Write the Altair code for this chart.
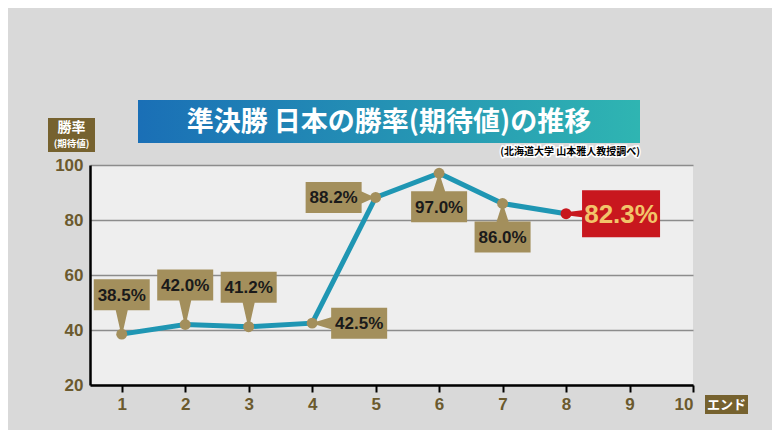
import altair as alt
import pandas as pd

# ---- data ----
ends = [1, 2, 3, 4, 5, 6, 7, 8]
rates = [38.5, 42.0, 41.2, 42.5, 88.2, 97.0, 86.0, 82.3]
labels = ["38.5%", "42.0%", "41.2%", "42.5%", "88.2%", "97.0%", "86.0%", "82.3%"]
placement = ["above", "above", "above", "right", "left", "below", "below", "highlight"]
x_ticks = list(range(1, 11))
y_ticks = [20, 40, 60, 80, 100]

title_text = "準決勝 日本の勝率(期待値)の推移"
source_text = "(北海道大学 山本雅人教授調べ)"
y_title_lines = ["勝率", "(期待値)"]
x_title = "エンド"

df = pd.DataFrame({"end": ends, "rate": rates, "label": labels, "place": placement})

# ---- styles ----
OLIVE = "#a38f5c"
DARK_OLIVE = "#76622f"
AXIS_TXT = "#6b5a2e"
TEAL = "#1f96b3"
RED = "#c8171e"
YELLOW = "#f2c46a"
NARROW = "Liberation Sans"
CJK = "Noto Sans CJK JP"

xs = alt.Scale(domain=[0.5, 10], nice=False, zero=False)
ys = alt.Scale(domain=[20, 100], nice=False, zero=False)

x_axis = alt.Axis(values=x_ticks, format="d", grid=False,
                  labelFont=NARROW, labelFontSize=17, labelFontWeight="bold",
                  labelColor=AXIS_TXT, domainColor="black", domainWidth=2.5,
                  tickColor="black", tickWidth=2, tickSize=7, labelPadding=4)
y_axis = alt.Axis(values=y_ticks, grid=True, gridColor="#8c8c8c", gridWidth=1.5,
                  ticks=False, labelFont=NARROW, labelFontSize=17,
                  labelFontWeight="bold", labelColor=AXIS_TXT,
                  domainColor="black", domainWidth=2.5, labelPadding=7)

X = alt.X("end:Q", scale=xs, title=None, axis=x_axis)
Y = alt.Y("rate:Q", scale=ys, title=None, axis=y_axis)

base = alt.Chart(df)

line = base.mark_line(color=TEAL, strokeWidth=5).encode(x=X, y=Y)

paths = {
    "above": ("M-28,-55 L28,-55 L28,-24 L6,-24 L1.5,-4 L-1.5,-4 L-6,-24 L-28,-24 Z", 0, -39.5),
    "below": ("M-1.5,4 L1.5,4 L6,18 L28,18 L28,49 L-28,49 L-28,18 L-6,18 Z", 0, 33.5),
    "right": ("M4,-1.5 L19,-6 L19,-15.5 L75,-15.5 L75,15.5 L19,15.5 L19,6 L4,1.5 Z", 47, 0),
    "left": ("M-4,-1.5 L-14,-6 L-14,-15.5 L-70,-15.5 L-70,15.5 L-14,15.5 L-14,6 L-4,1.5 Z", -42, 0),
    "highlight": ("M4,-2 L16,-3.5 L16,-23.5 L94,-23.5 L94,23.5 L16,23.5 L16,3.5 L4,2 Z", 55, 0),
}

boxes = []
texts = []
for place, (path, dx, dy) in paths.items():
    hl = place == "highlight"
    sub = base.transform_filter(alt.datum.place == place)
    boxes.append(sub.mark_point(shape=path, size=4, filled=True, color=RED if hl else OLIVE,
                                opacity=1, strokeWidth=0).encode(x=X, y=Y))
    texts.append(sub.mark_text(dx=dx, dy=dy + 1, font=NARROW, fontWeight="bold",
                               fontSize=26 if hl else 17,
                               color=YELLOW if hl else "#1a1a1a",
                               baseline="middle", align="center").encode(
        x=X, y=Y, text="label:N"))

points = base.mark_point(filled=True, size=120, opacity=1, strokeWidth=0).encode(
    x=X, y=Y,
    color=alt.condition(alt.datum.place == "highlight", alt.value(RED), alt.value(OLIVE)),
)

one = alt.Data(values=[{"k": 1}])
grad = alt.Gradient(gradient="linear",
                    stops=[alt.GradientStop(color="#1a6fb6", offset=0),
                           alt.GradientStop(color="#2fb5b2", offset=1)],
                    x1=0, x2=1, y1=0, y2=0)
banner = alt.Chart(one).mark_rect(color=grad).encode(
    x=alt.value(48), x2=alt.value(550), y=alt.value(-65), y2=alt.value(-22))
banner_txt = alt.Chart(one).mark_text(text=title_text, font=CJK, fontSize=27, fontWeight="bold",
                                      color="white", align="center", baseline="middle").encode(
    x=alt.value(299), y=alt.value(-42))
src_bg = alt.Chart(one).mark_text(text=source_text, font=CJK, fontSize=10, fontWeight="bold",
                                  color="white", stroke="white", strokeWidth=3,
                                  align="right", baseline="middle").encode(
    x=alt.value(550), y=alt.value(-13))
src = alt.Chart(one).mark_text(text=source_text, font=CJK, fontSize=10, fontWeight="bold",
                               color="black", align="right", baseline="middle").encode(
    x=alt.value(550), y=alt.value(-13))

ybox = alt.Chart(one).mark_rect(color=DARK_OLIVE).encode(
    x=alt.value(-42), x2=alt.value(5), y=alt.value(-47), y2=alt.value(-13))
ytxt1 = alt.Chart(one).mark_text(text=y_title_lines[0], font=CJK, fontSize=14, fontWeight="bold",
                                 color="white", align="center", baseline="middle").encode(
    x=alt.value(-18.5), y=alt.value(-37))
ytxt2 = alt.Chart(one).mark_text(text=y_title_lines[1], font=CJK, fontSize=9.5, fontWeight="bold",
                                 color="white", align="center", baseline="middle").encode(
    x=alt.value(-18.5), y=alt.value(-21))

xbox = alt.Chart(one).mark_rect(color=DARK_OLIVE).encode(
    x=alt.value(615), x2=alt.value(658), y=alt.value(230), y2=alt.value(249))
xtxt = alt.Chart(one).mark_text(text=x_title, font=CJK, fontSize=13, fontWeight="bold",
                                color="white", align="center", baseline="middle").encode(
    x=alt.value(636.5), y=alt.value(239.5))

chart = alt.layer(
    line, *boxes, points, *texts,
    banner, banner_txt, src_bg, src, ybox, ytxt1, ytxt2, xbox, xtxt,
).properties(
    width=603, height=220,
    autosize=alt.AutoSizeParams(type="none"),
    padding={"left": 82, "top": 157, "right": 79, "bottom": 45},
    background="#d9d9d9",
).configure_view(
    fill="#eeeeee", stroke=None,
)

chart.save("out.html", embed_options={"renderer": "svg", "actions": False})
